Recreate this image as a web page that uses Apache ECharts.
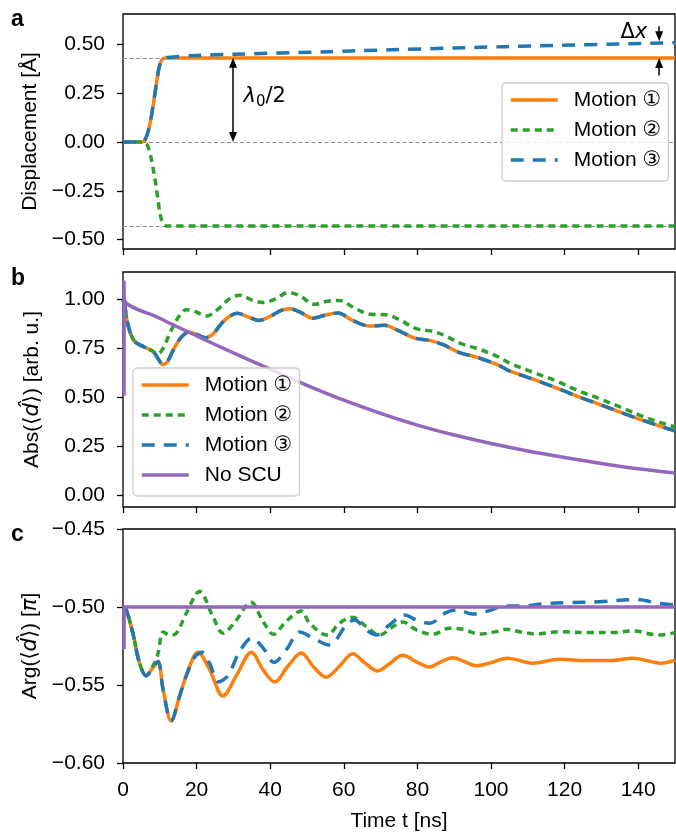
<!DOCTYPE html>
<html>
<head>
<meta charset="utf-8">
<script src="https://cdn.jsdelivr.net/npm/echarts@6/dist/echarts.min.js"></script>
<style>
  html, body { margin: 0; padding: 0; background: #fff; }
  #chart { width: 676px; height: 833px; }
</style>
</head>
<body>
<div id="chart"></div>
<script>
// ---- Panel a: displacement of the atom [Å] vs time [ns] ----
const tDisp = [0, 5, 5.5, 6, 6.5, 7, 7.5, 8, 8.5, 9, 9.5, 10, 10.5, 11, 11.5, 12, 20, 30, 56, 62, 104, 147, 150];
const dispMotion1 = [0, 0, 0.002, 0.012, 0.035, 0.065, 0.11, 0.165, 0.225, 0.29, 0.35, 0.395, 0.418, 0.428, 0.43, 0.43, 0.43, 0.43, 0.43, 0.43, 0.43, 0.43, 0.43];
const dispMotion2 = [0, 0, 0, -0.003, -0.012, -0.035, -0.07, -0.115, -0.17, -0.226, -0.295, -0.36, -0.4, -0.42, -0.428, -0.43, -0.43, -0.43, -0.43, -0.43, -0.43, -0.43, -0.43];
const dispMotion3 = [0, 0, 0.002, 0.012, 0.035, 0.065, 0.11, 0.165, 0.225, 0.29, 0.35, 0.395, 0.418, 0.428, 0.431, 0.433, 0.443, 0.449, 0.462, 0.466, 0.488, 0.507, 0.508];
const refLevels = [0.43, 0, -0.43];          // ±λ0/2 and rest position
const halfLambda = 0.43;

// ---- Panel b: |<d>| [arb. u.] ----
const tAbs1 = [0, 0.5, 1, 2, 3, 4, 5, 6.5, 8, 9, 10, 10.8, 11.5, 12.3, 14, 16, 18, 20, 22.5, 24.5, 27, 29, 31, 34, 37, 40.5, 43, 45.3, 48, 51.6, 54.8, 58.4, 62.4, 67, 71, 74.7, 79.2, 83.3, 87, 91.4, 96, 99.6, 102.3, 105, 111, 117.2, 123.5, 129.4, 135.8, 141.7, 148.4, 150];
const absMotion1 = [1.0, 0.97, 0.9, 0.83, 0.79, 0.775, 0.765, 0.752, 0.738, 0.715, 0.685, 0.668, 0.672, 0.69, 0.755, 0.812, 0.835, 0.822, 0.806, 0.826, 0.883, 0.915, 0.93, 0.912, 0.894, 0.92, 0.945, 0.954, 0.937, 0.905, 0.92, 0.932, 0.894, 0.865, 0.869, 0.843, 0.804, 0.792, 0.77, 0.73, 0.707, 0.684, 0.663, 0.636, 0.597, 0.554, 0.507, 0.466, 0.421, 0.381, 0.339, 0.33];
// motion 3 coincides with motion 1 in amplitude
const tAbs3 = tAbs1;
const absMotion3 = absMotion1;
const tAbs2 = [0, 0.5, 1, 2, 3, 4, 5, 6.5, 8, 9.5, 10.5, 11.5, 13, 15.4, 17.2, 19.9, 22.6, 25.4, 29, 31.7, 35.3, 38, 41.6, 44.8, 48, 52, 55.2, 58.8, 62.9, 67.4, 71.5, 75.1, 79.7, 83.7, 87.3, 91.9, 96.4, 100, 102.3, 105.4, 111.2, 117.7, 123.5, 129.4, 135.8, 141.7, 148.4, 150];
const absMotion2 = [1.0, 0.97, 0.9, 0.83, 0.79, 0.775, 0.765, 0.752, 0.738, 0.725, 0.74, 0.775, 0.84, 0.92, 0.949, 0.937, 0.916, 0.945, 1.005, 1.022, 0.996, 0.985, 1.005, 1.036, 1.02, 0.976, 0.991, 0.996, 0.957, 0.925, 0.923, 0.898, 0.852, 0.84, 0.818, 0.775, 0.75, 0.724, 0.705, 0.673, 0.631, 0.585, 0.537, 0.495, 0.447, 0.401, 0.359, 0.35];
const tAbsNoScu = [0.3, 0.3, 0.35, 10, 20, 30, 40, 50, 60, 70, 80, 90, 100, 110, 120, 130, 140, 150];
const absNoScu = [0.51, 1.09, 1.0, 0.905, 0.815, 0.728, 0.645, 0.563, 0.487, 0.42, 0.36, 0.309, 0.266, 0.228, 0.195, 0.164, 0.137, 0.115];

// ---- Panel c: arg(<d>) [π] ----
const tArg1 = [0, 0.9, 2.7, 4.5, 6.3, 8.1, 9.5, 10.9, 13.1, 15.4, 17.2, 20.4, 23.5, 27.2, 30.8, 34.9, 38, 41.2, 44.8, 48.4, 52, 55.2, 58.8, 62.4, 65.8, 69.2, 72.6, 76, 79.6, 83.3, 86.5, 89.6, 92.8, 96, 99.6, 104.5, 111.3, 118.6, 125.8, 133, 138.5, 146.2, 150];
const argMotion1 = [-0.5, -0.502, -0.517, -0.536, -0.544, -0.539, -0.535, -0.553, -0.573, -0.557, -0.544, -0.529, -0.540, -0.557, -0.544, -0.529, -0.540, -0.548, -0.538, -0.5295, -0.539, -0.545, -0.538, -0.530, -0.536, -0.541, -0.536, -0.531, -0.535, -0.5385, -0.535, -0.5325, -0.535, -0.5377, -0.536, -0.5328, -0.536, -0.5335, -0.5343, -0.5343, -0.5328, -0.536, -0.534];
const tArg2 = [0, 0.9, 2.7, 4.5, 6.3, 8.1, 9.5, 10.9, 12.7, 14.5, 17.2, 20.8, 24.4, 27.2, 30.3, 34.8, 38, 40.9, 44.4, 48.5, 50.7, 55.5, 58.8, 62.4, 66.1, 69.7, 73.3, 76, 79.7, 84.2, 88.7, 92.3, 96.9, 101.4, 104.1, 107.7, 112.2, 118.6, 126.7, 133.1, 138.5, 145.7, 150];
const argMotion2 = [-0.5, -0.502, -0.517, -0.536, -0.544, -0.538, -0.530, -0.516, -0.518, -0.5168, -0.504, -0.490, -0.506, -0.5168, -0.510, -0.497, -0.509, -0.5175, -0.509, -0.5025, -0.5104, -0.518, -0.5104, -0.5066, -0.5126, -0.518, -0.5126, -0.5096, -0.5147, -0.5175, -0.5136, -0.5143, -0.5173, -0.5158, -0.5143, -0.5158, -0.5173, -0.5158, -0.5164, -0.5164, -0.5154, -0.518, -0.5164];
const tArg3 = [0, 0.9, 2.7, 4.5, 6.3, 8.1, 9.5, 10.9, 13.1, 15.4, 17.2, 19.5, 21.5, 23.5, 26, 28.5, 31.7, 35, 38, 41, 44.5, 48, 51.7, 56, 60.7, 62.9, 66.1, 68.8, 72.4, 76.5, 79.7, 83.3, 87.8, 91, 95, 100, 103.2, 108.6, 114, 121.3, 129.4, 139.4, 145.7, 150];
const argMotion3 = [-0.5, -0.502, -0.517, -0.536, -0.544, -0.539, -0.535, -0.553, -0.573, -0.557, -0.544, -0.532, -0.529, -0.536, -0.548, -0.544, -0.5285, -0.520, -0.526, -0.5355, -0.527, -0.516, -0.520, -0.5243, -0.5115, -0.5083, -0.5147, -0.5179, -0.5115, -0.5051, -0.5083, -0.5104, -0.5036, -0.5019, -0.5045, -0.502, -0.4994, -0.4994, -0.498, -0.4971, -0.4967, -0.4952, -0.4977, -0.4987];
const tArgNoScu = [0.3, 0.3, 150];
const argNoScu = [-0.527, -0.5, -0.5];

// ---- Axis ticks ----
const timeTicks = [0, 20, 40, 60, 80, 100, 120, 140];
const dispTicks = [-0.5, -0.25, 0, 0.25, 0.5];
const absTicks = [0, 0.25, 0.5, 0.75, 1.0];
const argTicks = [-0.6, -0.55, -0.5, -0.45];

// ---- Styling ----
const FONT = "'Liberation Sans', Arial, 'DejaVu Sans', 'Noto Sans CJK SC', sans-serif";
const MATH = "'DejaVu Sans', sans-serif";
const C1 = '#ff7f0e', C2 = '#2ca02c', C3 = '#1f77b4', C4 = '#9467bd';
const DASH2 = [7, 5], DASH3 = [13, 9];
const LW = 3.5;
const FS = 21;

const zip = (ts, vs) => ts.map((t, i) => [t, vs[i]]);
const fmt = v => (v < 0 ? '\u2212' : '') + Math.abs(v).toFixed(2);

const grids = [
  { top: 14, height: 235 },
  { top: 272, height: 235 },
  { top: 529, height: 234 }
].map(g => Object.assign({
  left: 123, width: 552, show: true, borderColor: '#000', borderWidth: 1.3,
  backgroundColor: 'transparent', containLabel: false, outerBoundsMode: 'none'
}, g));

const tickStyle = { length: 6, lineStyle: { color: '#000', width: 1.3 } };
const labelText = { fontSize: FS, fontFamily: FONT, color: '#000' };

const xAxes = [0, 1, 2].map(i => ({
  type: 'value', gridIndex: i, min: 0, max: 150,
  splitLine: { show: false },
  axisLine: { show: false, onZero: false },
  axisTick: Object.assign({ show: true, customValues: timeTicks }, tickStyle),
  axisLabel: Object.assign({ show: i === 2, customValues: timeTicks, margin: 17 }, labelText),
  name: i === 2 ? 'Time t [ns]' : '',
  nameLocation: 'middle', nameGap: 48,
  nameTextStyle: labelText
}));

const richName = {
  n: { fontSize: FS, fontFamily: FONT, color: '#000' },
  i: { fontSize: FS, fontFamily: MATH, fontStyle: 'italic', color: '#000' }
};

function yAxis(i, min, max, ticks, name) {
  return {
    type: 'value', gridIndex: i, min: min, max: max,
    splitLine: { show: false },
    axisLine: { show: false, onZero: false },
    axisTick: Object.assign({ show: true, customValues: ticks }, tickStyle),
    axisLabel: Object.assign({ customValues: ticks, margin: 18, formatter: fmt }, labelText),
    name: name, nameLocation: 'middle', nameRotate: 90, nameGap: 80,
    nameTextStyle: Object.assign({ rich: richName }, labelText)
  };
}

const yAxes = [
  yAxis(0, -0.5476, 0.655, dispTicks, 'Displacement [Å]'),
  yAxis(1, -0.058, 1.141, absTicks, '{n|Abs(\u27E8}{i|d\u0302}{n|\u27E9) [arb. u.]}'),
  yAxis(2, -0.6, -0.45, argTicks, '{n|Arg(\u27E8}{i|d\u0302}{n|\u27E9) [}{i|\u03C0}{n|]}')
];

function curve(name, gi, ts, vs, color, dash, smooth) {
  return {
    type: 'line', name: name, xAxisIndex: gi, yAxisIndex: gi,
    data: zip(ts, vs), symbol: 'none', showSymbol: false,
    smooth: smooth === undefined ? 0.35 : smooth,
    silent: true, z: 3,
    lineStyle: { color: color, width: LW, type: dash || 'solid', cap: 'butt', join: 'round' },
    itemStyle: { color: color }
  };
}

const L1 = 'Motion \u2460', L2 = 'Motion \u2461', L3 = 'Motion \u2462', L4 = 'No SCU';
const mathRich = {
  it: { fontFamily: MATH, fontStyle: 'italic', fontSize: 21, color: '#000', lineHeight: 28 },
  up: { fontFamily: MATH, fontSize: 21, color: '#000', lineHeight: 28 },
  sub: { fontFamily: MATH, fontSize: 15, color: '#000', lineHeight: 15, verticalAlign: 'bottom' }
};

const series = [
  // dashed guide lines at ±λ0/2 and 0
  {
    type: 'line', xAxisIndex: 0, yAxisIndex: 0, data: [[0, 0]], symbol: 'none',
    lineStyle: { opacity: 0 }, silent: true, z: 1,
    markLine: {
      silent: true, symbol: 'none', z: 1, animation: false,
      label: { show: false },
      lineStyle: { color: '#8c8c8c', width: 1, type: [4, 2.5] },
      data: refLevels.map(v => ({ yAxis: v }))
    }
  },
  curve(L1, 0, tDisp, dispMotion1, C1, null, 0.3),
  curve(L2, 0, tDisp, dispMotion2, C2, DASH2, 0.3),
  curve(L3, 0, tDisp, dispMotion3, C3, DASH3, 0.3),
  // annotations: λ0/2 span and Δx offset
  {
    type: 'line', xAxisIndex: 0, yAxisIndex: 0, data: [[0, 0]], symbol: 'none',
    lineStyle: { opacity: 0 }, silent: true, z: 6,
    markLine: {
      silent: true, z: 6, animation: false, symbolSize: [8, 10],
      label: { show: false },
      lineStyle: { color: '#000', width: 1.5, type: 'solid' },
      data: [
        [{ coord: [29.9, halfLambda - 0.025], symbol: 'triangle' }, { coord: [29.9, 0.025], symbol: 'triangle' }],
        [{ coord: [145.7, 0.592], symbol: 'none' }, { coord: [145.7, 0.541], symbol: 'triangle' }],
        [{ coord: [145.7, 0.34], symbol: 'none' }, { coord: [145.7, 0.404], symbol: 'triangle' }]
      ]
    },
    markPoint: {
      silent: true, symbol: 'circle', symbolSize: 1, animation: false,
      itemStyle: { color: 'rgba(0,0,0,0)' },
      data: [
        {
          coord: [32.6, 0.235],
          label: { show: true, position: 'right', distance: 0, formatter: '{it|λ}{sub|0}{up|/2}', rich: mathRich }
        },
        {
          coord: [142.6, 0.562],
          label: { show: true, position: 'left', distance: 0, formatter: '{up|Δ}{it|x}', rich: mathRich }
        }
      ]
    }
  },
  curve(L1, 1, tAbs1, absMotion1, C1, null),
  curve(L2, 1, tAbs2, absMotion2, C2, DASH2),
  curve(L3, 1, tAbs3, absMotion3, C3, DASH3),
  curve(L4, 1, tAbsNoScu, absNoScu, C4, null, 0.3),
  curve(L1, 2, tArg1, argMotion1, C1, null),
  curve(L2, 2, tArg2, argMotion2, C2, DASH2),
  curve(L3, 2, tArg3, argMotion3, C3, DASH3),
  curve(L4, 2, tArgNoScu, argNoScu, C4, null, false)
];

const legendBase = {
  orient: 'vertical', itemWidth: 47, itemHeight: 14, itemGap: 8,
  padding: [6, 7, 10, 7], backgroundColor: 'rgba(255,255,255,0.8)',
  borderColor: '#cccccc', borderWidth: 1.3, borderRadius: 4,
  selectedMode: false, z: 10,
  lineStyle: { width: LW },
  itemStyle: { opacity: 0 },
  textStyle: { fontSize: FS, fontFamily: FONT, color: '#000', lineHeight: 22, padding: [0, 0, 0, 11] }
};

const option = {
  animation: false,
  backgroundColor: '#fff',
  grid: grids,
  xAxis: xAxes,
  yAxis: yAxes,
  legend: [
    Object.assign({ data: [L1, L2, L3], left: 502, top: 83 }, legendBase),
    Object.assign({ data: [L1, L2, L3, L4], left: 133, top: 368 }, legendBase)
  ],
  graphic: [
    { type: 'text', x: 11, y: 20, style: { text: 'a', fontSize: 23, fontWeight: 'bold', fontFamily: FONT, fill: '#000', verticalAlign: 'middle' } },
    { type: 'text', x: 11, y: 279, style: { text: 'b', fontSize: 23, fontWeight: 'bold', fontFamily: FONT, fill: '#000', verticalAlign: 'middle' } },
    { type: 'text', x: 11, y: 535, style: { text: 'c', fontSize: 23, fontWeight: 'bold', fontFamily: FONT, fill: '#000', verticalAlign: 'middle' } }
  ],
  series: series
};

const chart = echarts.init(document.getElementById('chart'), null, { renderer: 'canvas' });
chart.setOption(option);
</script>
</body>
</html>
